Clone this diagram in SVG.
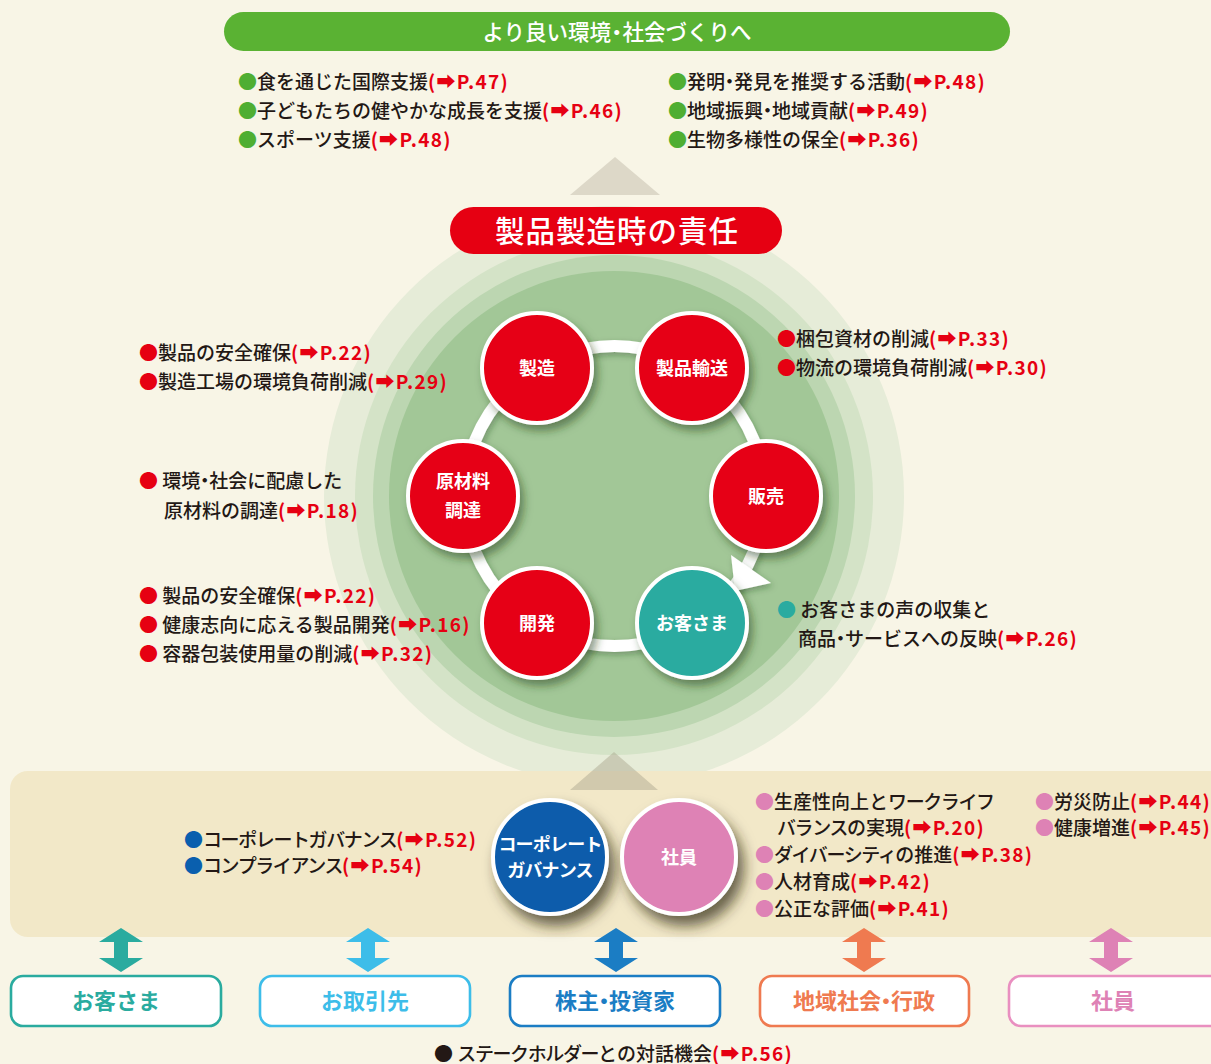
<svg xmlns="http://www.w3.org/2000/svg" width="1211" height="1064" viewBox="0 0 1211 1064">
<defs>
<style>
text{font-family:"Noto Sans CJK JP","DejaVu Sans",sans-serif;}
.li{font-size:19px;font-weight:500;fill:#231815;}
.ref{fill:#e60012;font-weight:700;letter-spacing:1.3px;}
.br{fill:#e60012;}
.bg{fill:#4fae32;}
.bt{fill:#2aaba0;}
.bb{fill:#0a5fae;}
.bp{fill:#de82b5;}
.bk{fill:#231815;}
.nt{font-size:18px;font-weight:700;fill:#fff;text-anchor:middle;}
.node{stroke:#fff;stroke-width:4;filter:url(#sh);}
.bnode{stroke:#fff;stroke-width:4;filter:url(#sh2);}
.sk{fill:#fff;stroke-width:2.6;}
.skt{font-size:22px;font-weight:700;text-anchor:middle;}
.kn{letter-spacing:-1.4px;}
.d5{letter-spacing:-5px;}
.d6{letter-spacing:-6px;}
</style>
<filter id="sh" x="-30%" y="-30%" width="170%" height="170%">
<feDropShadow dx="4" dy="6" stdDeviation="4" flood-color="#1f3a14" flood-opacity="0.5"/>
</filter>
<filter id="sh2" x="-40%" y="-40%" width="190%" height="190%">
<feDropShadow dx="6" dy="10" stdDeviation="7" flood-color="#2e2818" flood-opacity="0.7"/>
</filter>
<filter id="sh3" x="-20%" y="-20%" width="140%" height="140%">
<feDropShadow dx="2" dy="3" stdDeviation="3" flood-color="#1f3a14" flood-opacity="0.35"/>
</filter>
<path id="dbl" d="M0,0 L22,14 L7,14 L7,30 L22,30 L0,44 L-22,30 L-7,30 L-7,14 L-22,14 Z"/>
</defs>
<rect width="1211" height="1064" fill="#f8f5e6"/>

<g id="rings">
<circle cx="614" cy="496" r="290" fill="#e6ecd8"/>
<circle cx="614" cy="496" r="259" fill="#d4e3c7"/>
<circle cx="614" cy="496" r="241" fill="#bcd6b1"/>
<circle cx="614" cy="496" r="225" fill="#a2c797"/>
</g>

<rect id="stakeholder-area" x="10" y="771" width="1230" height="166" rx="18" fill="#f2e8c8"/>
<polygon points="614,752 570,790 658,790" fill="#a8a48c" opacity="0.45"/>
<polygon points="615,157 570,195 660,195" fill="#ddd8c8"/>

<g id="goal-banner">
<rect x="224" y="12" width="786" height="39" rx="19.5" fill="#5ab233"/>
<text x="617" y="39.5" font-size="21.5" font-weight="500" fill="#fff" text-anchor="middle">より良い環<tspan class="d5">境・</tspan>社会づくりへ</text>
</g>

<g id="goal-list">
<text class="li" x="238" y="89"><tspan class="bg">●</tspan>食を通じた国際支援<tspan class="ref">(➡P.47)</tspan></text>
<text class="li" x="238" y="118"><tspan class="bg">●</tspan>子どもたちの健やかな成長を支援<tspan class="ref">(➡P.46)</tspan></text>
<text class="li" x="238" y="147"><tspan class="bg">●</tspan>スポーツ支援<tspan class="ref">(➡P.48)</tspan></text>
<text class="li" x="668" y="89"><tspan class="bg">●</tspan>発<tspan class="d5">明・</tspan>発見を推奨する活動<tspan class="ref">(➡P.48)</tspan></text>
<text class="li" x="668" y="118"><tspan class="bg">●</tspan>地域振<tspan class="d5">興・</tspan>地域貢献<tspan class="ref">(➡P.49)</tspan></text>
<text class="li" x="668" y="147"><tspan class="bg">●</tspan>生物多様性の保全<tspan class="ref">(➡P.36)</tspan></text>
</g>

<g id="responsibility-banner">
<rect x="450" y="207" width="332" height="47" rx="23.5" fill="#e60012"/>
<text x="617" y="242" font-size="29.5" font-weight="500" fill="#fff" text-anchor="middle" letter-spacing="1">製品製造時の責任</text>
</g>

<g id="connectors">
<circle cx="614.5" cy="496" r="150" fill="none" stroke="#fff" stroke-width="12" filter="url(#sh3)"/>
<polygon points="731,555 771,583 735,591" fill="#fff" filter="url(#sh3)"/>
<g id="double-arrows">
<use href="#dbl" x="121" y="928" fill="#2aab9f"/>
<use href="#dbl" x="368" y="928" fill="#3dbde9"/>
<use href="#dbl" x="616" y="928" fill="#1b7dc4"/>
<use href="#dbl" x="864" y="928" fill="#ef7a50"/>
<use href="#dbl" x="1111" y="928" fill="#de82b5"/>
</g>
</g>

<g id="n-seizo"><circle class="node" cx="537" cy="368" r="55" fill="#e60012"/><text class="nt" x="537" y="375">製造</text></g>
<g id="n-yuso"><circle class="node" cx="692" cy="368" r="55" fill="#e60012"/><text class="nt" x="692" y="375">製品輸送</text></g>
<g id="n-hanbai"><circle class="node" cx="766" cy="496" r="55" fill="#e60012"/><text class="nt" x="766" y="503">販売</text></g>
<g id="n-okyakusama"><circle class="node" cx="692" cy="623" r="55" fill="#2aaba0"/><text class="nt" x="692" y="630">お客さま</text></g>
<g id="n-kaihatsu"><circle class="node" cx="537" cy="623" r="55" fill="#e60012"/><text class="nt" x="537" y="630">開発</text></g>
<g id="n-genzairyo"><circle class="node" cx="463" cy="496" r="55" fill="#e60012"/><text class="nt" x="463" y="488">原材料</text><text class="nt" x="463" y="517">調達</text></g>

<g id="cycle-lists">
<text class="li" x="139" y="360"><tspan class="br">●</tspan>製品の安全確保<tspan class="ref">(➡P.22)</tspan></text>
<text class="li" x="139" y="389"><tspan class="br">●</tspan>製造工場の環境負荷削減<tspan class="ref">(➡P.29)</tspan></text>
<text class="li" x="139" y="488"><tspan class="br">●</tspan> 環<tspan class="d5">境・</tspan>社会に配慮した</text>
<text class="li" x="164" y="518">原材料の調達<tspan class="ref">(➡P.18)</tspan></text>
<text class="li" x="139" y="603"><tspan class="br">●</tspan> 製品の安全確保<tspan class="ref">(➡P.22)</tspan></text>
<text class="li" x="139" y="632"><tspan class="br">●</tspan> 健康志向に応える製品開発<tspan class="ref">(➡P.16)</tspan></text>
<text class="li" x="139" y="661"><tspan class="br">●</tspan> 容器包装使用量の削減<tspan class="ref">(➡P.32)</tspan></text>
<text class="li" x="777" y="346"><tspan class="br">●</tspan>梱包資材の削減<tspan class="ref">(➡P.33)</tspan></text>
<text class="li" x="777" y="375"><tspan class="br">●</tspan>物流の環境負荷削減<tspan class="ref">(➡P.30)</tspan></text>
<text class="li" x="777" y="617"><tspan class="bt">●</tspan> お客さまの声の収集と</text>
<text class="li" x="798" y="646">商<tspan class="d5">品・</tspan>サービスへの反映<tspan class="ref">(➡P.26)</tspan></text>
</g>

<g id="n-governance"><circle class="bnode" cx="550" cy="857" r="57" fill="#0a5bab"/><text class="nt" x="550" y="851" font-size="17" letter-spacing="-0.8">コーポレート</text><text class="nt" x="550" y="877" font-size="17" letter-spacing="-0.8">ガバナンス</text></g>
<g id="n-shain"><circle class="bnode" cx="679" cy="857" r="57" fill="#de82b5"/><text class="nt" x="679" y="864" font-size="17">社員</text></g>

<g id="stakeholder-lists">
<text class="li" x="184" y="847"><tspan class="bb">●</tspan><tspan class="kn">コーポレートガバナンス</tspan><tspan class="ref">(➡P.52)</tspan></text>
<text class="li" x="184" y="873"><tspan class="bb">●</tspan><tspan class="kn">コンプライアンス</tspan><tspan class="ref">(➡P.54)</tspan></text>
<text class="li" x="755" y="809"><tspan class="bp">●</tspan>生産性向上と<tspan class="kn">ワークライフ</tspan></text>
<text class="li" x="777" y="835"><tspan class="kn">バランス</tspan>の実現<tspan class="ref">(➡P.20)</tspan></text>
<text class="li" x="755" y="862"><tspan class="bp">●</tspan><tspan class="kn">ダイバーシティ</tspan>の推進<tspan class="ref">(➡P.38)</tspan></text>
<text class="li" x="755" y="889"><tspan class="bp">●</tspan>人材育成<tspan class="ref">(➡P.42)</tspan></text>
<text class="li" x="755" y="916"><tspan class="bp">●</tspan>公正な評価<tspan class="ref">(➡P.41)</tspan></text>
<text class="li" x="1035" y="809"><tspan class="bp">●</tspan>労災防止<tspan class="ref">(➡P.44)</tspan></text>
<text class="li" x="1035" y="835"><tspan class="bp">●</tspan>健康増進<tspan class="ref">(➡P.45)</tspan></text>
</g>

<g id="s-customers"><rect class="sk" x="11" y="976" width="210" height="50" rx="12" stroke="#2aab9f"/><text class="skt" x="116" y="1009" fill="#2aab9f">お客さま</text></g>
<g id="s-partners"><rect class="sk" x="260" y="976" width="210" height="50" rx="12" stroke="#3dbde9"/><text class="skt" x="365" y="1009" fill="#3dbde9">お取引先</text></g>
<g id="s-investors"><rect class="sk" x="510" y="976" width="210" height="50" rx="12" stroke="#1b7dc4"/><text class="skt" x="615" y="1009" fill="#1b7dc4">株<tspan class="d6">主・</tspan>投資家</text></g>
<g id="s-community"><rect class="sk" x="760" y="976" width="209" height="50" rx="12" stroke="#ef7a50"/><text class="skt" x="864" y="1009" fill="#ef7a50">地域社<tspan class="d6">会・</tspan>行政</text></g>
<g id="s-employees"><rect class="sk" x="1009" y="976" width="215" height="50" rx="12" stroke="#e98fc0"/><text class="skt" x="1113" y="1009" fill="#de82b5">社員</text></g>

<text class="li" x="434" y="1061"><tspan class="bk">●</tspan> <tspan class="kn">ステークホルダー</tspan>との対話機会<tspan class="ref">(➡P.56)</tspan></text>
</svg>
